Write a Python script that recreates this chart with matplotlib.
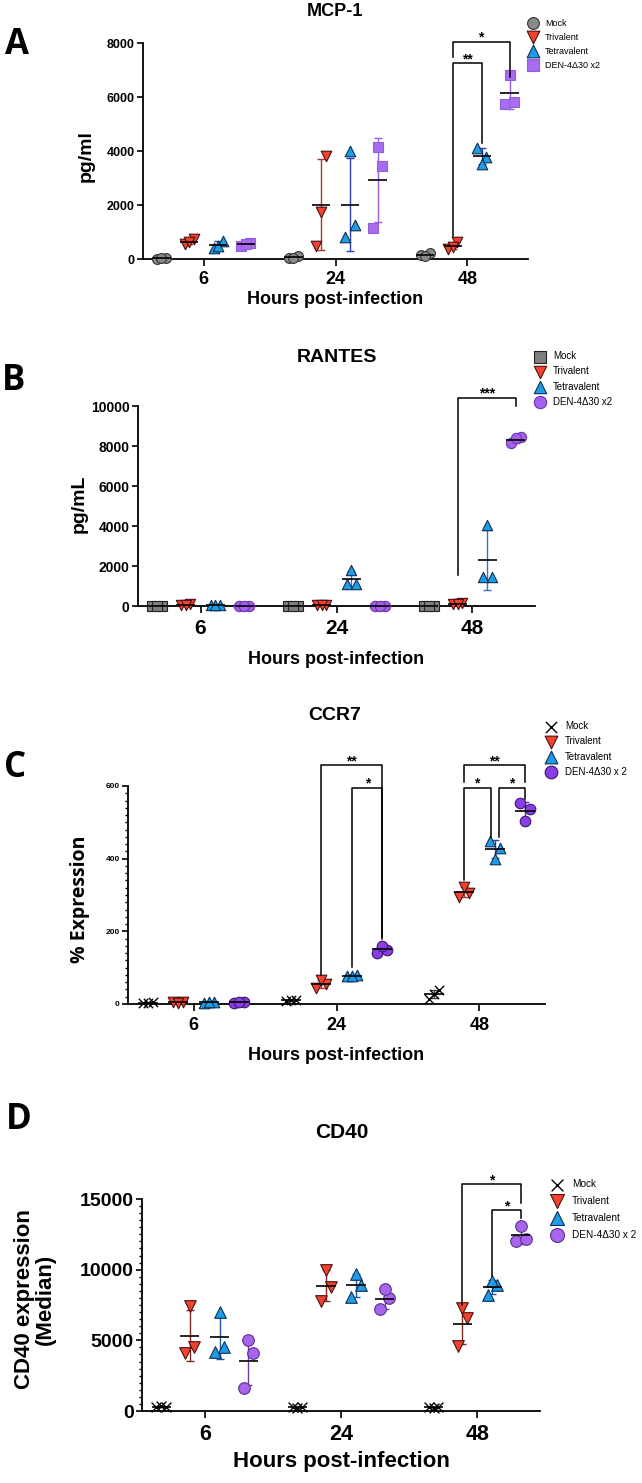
import numpy as np
import matplotlib.pyplot as plt
from matplotlib.ticker import MultipleLocator

# data (3 replicates per group per time point)
times = ['6', '24', '48']

mcp1_mock = [[0, 40, 20], [40, 110, 20], [150, 230, 120]]
mcp1_tri = [[550, 730, 620], [480, 3800, 1750], [380, 620, 450]]
mcp1_tetra = [[400, 680, 480], [800, 1250, 4000], [4110, 3780, 3520]]
mcp1_den = [[480, 580, 560], [1160, 3460, 4140], [5750, 5830, 6820]]

rantes_mock = [[0, 0, 0], [0, 0, 0], [0, 0, 0]]
rantes_tri = [[60, 80, 50], [60, 70, 50], [100, 130, 80]]
rantes_tetra = [[50, 60, 40], [1100, 1100, 1800], [1430, 1430, 4050]]
rantes_den = [[0, 0, 0], [0, 0, 0], [8130, 8430, 8380]]

ccr7_mock = [[2, 5, 3], [8, 12, 10], [15, 38, 28]]
ccr7_tri = [[5, 6, 4], [45, 55, 65], [295, 305, 322]]
ccr7_tetra = [[4, 5, 6], [76, 80, 78], [450, 430, 400]]
ccr7_den = [[4, 5, 5], [141, 150, 160], [552, 537, 504]]

cd40_mock = [[300, 250, 350], [250, 300, 200], [250, 300, 200]]
cd40_tri = [[4100, 4500, 7400], [7800, 8800, 10000], [4600, 6600, 7300]]
cd40_tetra = [[4200, 4500, 7000], [8100, 8900, 9700], [8200, 8900, 9200]]
cd40_den = [[1600, 4100, 5000], [7200, 8000, 8600], [12000, 12200, 13100]]

W, H = 642, 1483
fig = plt.figure(figsize=(W / 100, H / 100), dpi=100)

offsets = [-0.32, -0.11, 0.11, 0.32]
jitter = np.array([-0.035, 0.035, 0.0])
BOLD = dict(family='Liberation Sans', weight='bold')

red, blue, gray = '#f2432f', '#1e9de6', '#8a8a8a'


def px_axes(left, top, right, bottom):
    return fig.add_axes([left / W, 1 - bottom / H, (right - left) / W, (bottom - top) / H])


def fig_text(x, y, s, **kw):
    fig.text(x / W, 1 - y / H, s, ha='center', va='center', **kw)


def draw_groups(ax, data, styles):
    handles = []
    for g, (vals, st) in enumerate(zip(data, styles)):
        for t in range(3):
            v = np.array(vals[t], float)
            x0 = t + offsets[g]
            m, sd = v.mean(), v.std(ddof=1)
            ax.errorbar(x0, m, yerr=sd, fmt='none', ecolor=st['ecolor'], elinewidth=1,
                        capsize=3, capthick=1, zorder=2, clip_on=False)
            if st['marker'] == 'x':
                h = ax.scatter(x0 + jitter, v, marker='x', s=st['s'], c='black',
                               linewidths=1, zorder=3, clip_on=False)
            else:
                h = ax.scatter(x0 + jitter, v, marker=st['marker'], s=st['s'],
                               facecolor=st['face'], edgecolor=st['edge'],
                               linewidths=0.8, zorder=3, clip_on=False)
            ax.hlines(m, x0 - 0.07, x0 + 0.07, colors='black', lw=1.2, zorder=4, clip_on=False)
        handles.append(h)
    return handles


def style_axes(ax, ymax, yticks, xsize, ysize, minor=None):
    ax.set_xlim(-0.46, 2.46)
    ax.set_ylim(0, ymax)
    for s in ['top', 'right']:
        ax.spines[s].set_visible(False)
    for s in ['left', 'bottom']:
        ax.spines[s].set_linewidth(1.3)
    ax.set_xticks([0, 1, 2], times)
    ax.set_yticks(yticks)
    ax.tick_params(axis='x', length=5, width=1.2, pad=4, labelsize=xsize)
    ax.tick_params(axis='y', length=4, width=1.2, pad=2, labelsize=ysize)
    if minor:
        ax.yaxis.set_minor_locator(MultipleLocator(minor))
        ax.tick_params(axis='y', which='minor', length=2.5, width=1)
    for lbl in ax.get_xticklabels() + ax.get_yticklabels():
        lbl.set_fontfamily('Liberation Sans')
        lbl.set_fontweight('bold')
    ax.patch.set_alpha(0)


def bracket(ax, x1, x2, top, yl, yr, label, fs=10):
    ax.plot([x1, x1, x2, x2], [yl, top, top, yr], color='black', lw=1.1,
            clip_on=False, zorder=5)
    ax.text((x1 + x2) / 2, top, label, ha='center', va='baseline', fontsize=fs,
            fontweight='bold', family='Liberation Sans', clip_on=False)


def legend(ax, handles, labels, mx, my, tx, fs, row):
    fpx = fs * 100 / 72
    ls = (row - 1.15 * fpx) / fpx
    ax.legend(handles, labels, loc='upper left',
              bbox_to_anchor=((mx - 0.5 * fpx) / W, 1 - (my - 0.58 * fpx) / H),
              bbox_transform=fig.transFigure, frameon=False, borderpad=0,
              borderaxespad=0, handlelength=1.0, markerscale=1.2,
              handletextpad=(tx - (mx + 0.5 * fpx)) / fpx, labelspacing=ls,
              prop=dict(family='Liberation Sans', size=fs), scatterpoints=1)


def ebar(c):
    return {'tri': '#a8382a', 'tetra': '#2a40b0', 'den': '#8a4fd0', 'mock': '#444444'}[c]


# ---------------- A: MCP-1
axA = px_axes(143, 43, 528, 259)
stA = [dict(marker='o', s=50, face=gray, edge='#333333', ecolor=ebar('mock')),
       dict(marker='v', s=58, face=red, edge='#4a1010', ecolor=ebar('tri')),
       dict(marker='^', s=58, face=blue, edge='#0d2f55', ecolor=ebar('tetra')),
       dict(marker='s', s=52, face='#a86cf0', edge='#9060d8', ecolor='#9a5fe0')]
hA = draw_groups(axA, [mcp1_mock, mcp1_tri, mcp1_tetra, mcp1_den], stA)
style_axes(axA, 8000, [0, 2000, 4000, 6000, 8000], 13, 9)
bracket(axA, 2 - 0.11, 2 + 0.11, 7260, 850, 4300, '**')
bracket(axA, 2 - 0.11, 2 + 0.32, 8040, 7480, 6740, '*')
legend(axA, hA, ['Mock', 'Trivalent', 'Tetravalent', 'DEN-4Δ30 x2'], 533, 24, 545, 6.5, 15.3)
fig_text(335, 12, 'MCP-1', fontsize=13, **BOLD)
fig_text(86, 156, 'pg/ml', fontsize=14, rotation=90, **BOLD)
fig_text(335, 300, 'Hours post-infection', fontsize=13, **BOLD)
fig_text(17, 45, 'A', fontsize=25, family='Open Sans', weight='bold')

# ---------------- B: RANTES
axB = px_axes(138, 406, 535, 606)
stB = [dict(marker='s', s=55, face='#7f7f7f', edge='#222222', ecolor=ebar('mock')),
       dict(marker='v', s=55, face=red, edge='#4a1010', ecolor=ebar('tri')),
       dict(marker='^', s=55, face=blue, edge='#0d2f55', ecolor='#3a70c0'),
       dict(marker='o', s=55, face='#a560ec', edge='#6a35a8', ecolor=ebar('den'))]
hB = draw_groups(axB, [rantes_mock, rantes_tri, rantes_tetra, rantes_den], stB)
style_axes(axB, 10000, [0, 2000, 4000, 6000, 8000, 10000], 15, 10)
bracket(axB, 2 - 0.11, 2 + 0.32, 10420, 1550, 10000, '***')
legend(axB, hB, ['Mock', 'Trivalent', 'Tetravalent', 'DEN-4Δ30 x2'], 540, 357, 553, 7, 16.3)
fig_text(337, 358, 'RANTES', fontsize=14, **BOLD)
fig_text(79, 504, 'pg/mL', fontsize=14, rotation=90, **BOLD)
fig_text(336, 660, 'Hours post-infection', fontsize=13, **BOLD)
fig_text(14, 381, 'B', fontsize=25, family='Open Sans', weight='bold')

# ---------------- C: CCR7
axC = px_axes(128, 786, 545, 1004)
stC = [dict(marker='x', s=45, ecolor=ebar('mock')),
       dict(marker='v', s=58, face=red, edge='#4a1010', ecolor=ebar('tri')),
       dict(marker='^', s=58, face=blue, edge='#0d2f55', ecolor=ebar('tetra')),
       dict(marker='o', s=58, face='#8b3de4', edge='#3d1670', ecolor='#5a2aa0')]
hC = draw_groups(axC, [ccr7_mock, ccr7_tri, ccr7_tetra, ccr7_den], stC)
style_axes(axC, 600, [0, 200, 400, 600], 13, 6, minor=20)
bracket(axC, 1 - 0.11, 1 + 0.32, 657, 80, 185, '**')
bracket(axC, 1 + 0.11, 1 + 0.32, 595, 101, 180, '*')
bracket(axC, 2 - 0.11, 2 + 0.32, 657, 611, 611, '**')
bracket(axC, 2 - 0.11, 2 + 0.08, 595, 342, 460, '*')
bracket(axC, 2 + 0.14, 2 + 0.32, 595, 460, 565, '*')
legend(axC, hC, ['Mock', 'Trivalent', 'Tetravalent', 'DEN-4Δ30 x 2'], 551, 727, 565, 7, 16.3)
fig_text(335, 715, 'CCR7', fontsize=14, **BOLD)
fig_text(80, 899, '% Expression', fontsize=14, rotation=90, family='Open Sans', weight='bold')
fig_text(336, 1056, 'Hours post-infection', fontsize=13, **BOLD)
fig_text(15, 768, 'C', fontsize=25, family='Open Sans', weight='bold')

# ---------------- D: CD40
axD = px_axes(142, 1199, 540, 1411)
stD = [dict(marker='x', s=50, ecolor=ebar('mock')),
       dict(marker='v', s=70, face=red, edge='#4a1010', ecolor='#7a2a20'),
       dict(marker='^', s=70, face=blue, edge='#0d2f55', ecolor='#1c5aa8'),
       dict(marker='o', s=70, face='#a864ea', edge='#5a2f95', ecolor='#6a3fa0')]
hD = draw_groups(axD, [cd40_mock, cd40_tri, cd40_tetra, cd40_den], stD)
style_axes(axD, 15000, [0, 5000, 10000, 15000], 15.5, 14, minor=500)
bracket(axD, 2 - 0.11, 2 + 0.32, 16063, 7512, 14716, '*')
bracket(axD, 2 + 0.11, 2 + 0.32, 14197, 9520, 13654, '*')
legend(axD, hD, ['Mock', 'Trivalent', 'Tetravalent', 'DEN-4Δ30 x 2'], 557, 1185, 572, 7.2, 18.3)
fig_text(342, 1132, 'CD40', fontsize=15, **BOLD)
fig_text(35, 1299, 'CD40 expression\n(Median)', fontsize=16, rotation=90, linespacing=0.95, **BOLD)
fig_text(341, 1462, 'Hours post-infection', fontsize=16, **BOLD)
fig_text(19, 1120, 'D', fontsize=25, family='Open Sans', weight='bold')

fig.savefig('out.png', dpi=100)
